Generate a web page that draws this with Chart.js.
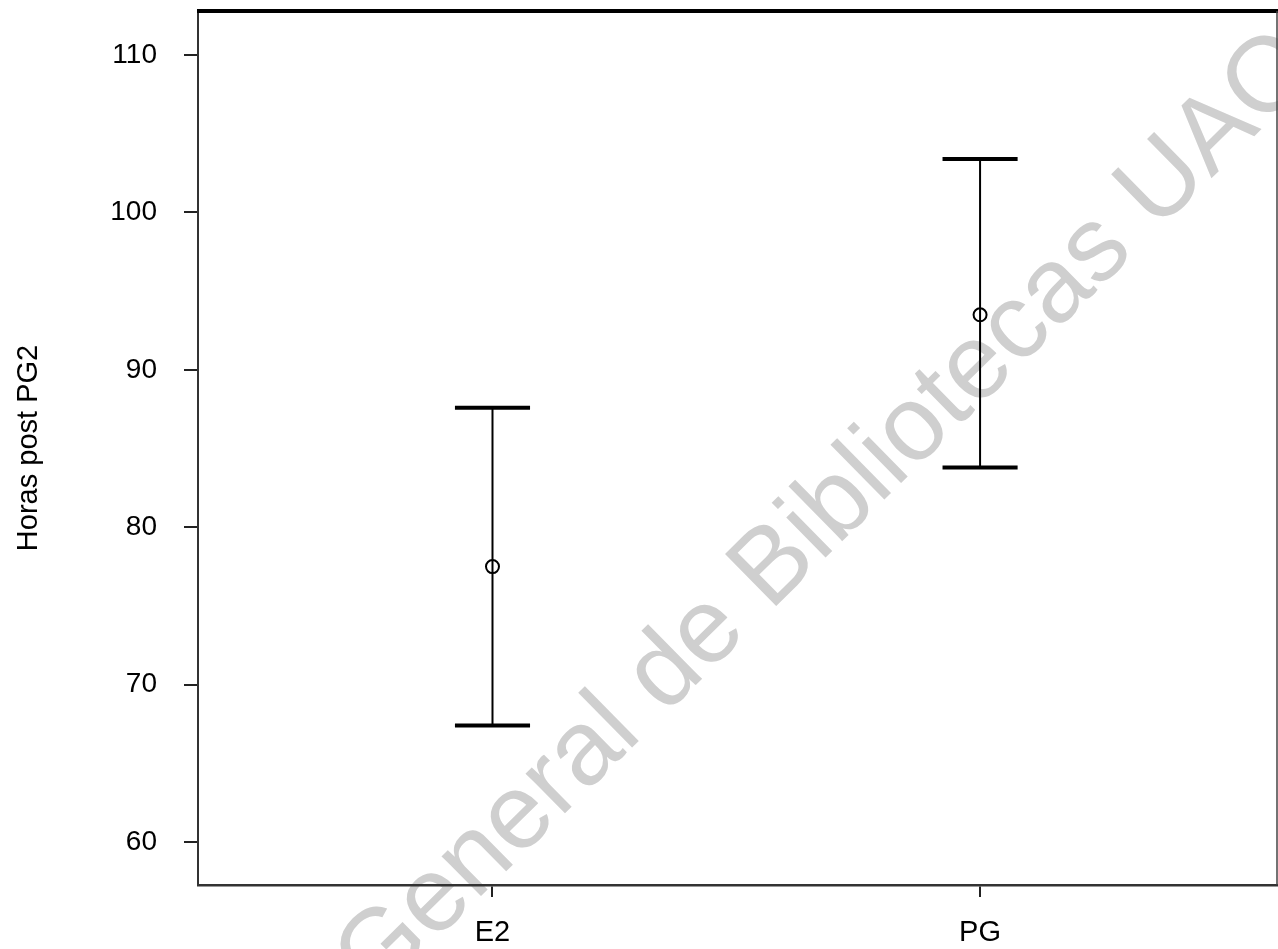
<!DOCTYPE html>
<html>
<head>
<meta charset="utf-8">
<title>Horas post PG2</title>
<script src="https://cdn.jsdelivr.net/npm/chart.js@4/dist/chart.umd.min.js"></script>
<style>
  html, body { margin: 0; padding: 0; background: #ffffff; }
  #wrap { width: 1278px; height: 949px; }
</style>
</head>
<body>
<div id="wrap"><canvas id="chart" width="1278" height="949"></canvas></div>
<script>
// Groups and their mean with lower / upper interval limits (hours)
const categories = ['E2', 'PG'];
const means = [77.5, 93.5];
const lower = [67.4, 83.8];
const upper = [87.6, 103.4];

// Axis ticks and ranges
const yTicks = [60, 70, 80, 90, 100, 110];
const yMin = 57.27, yMax = 112.8;
const xMin = 0.396, xMax = 2.609;

const CAP_HALF = 0.077;   // half width of the interval caps, in x units
const INK = '#000000';

// Build error-bar segments: one stem and two caps per group
const datasets = [];
categories.forEach((cat, i) => {
  const x = i + 1;
  datasets.push({
    label: cat + ' interval',
    data: [{ x: x, y: lower[i] }, { x: x, y: upper[i] }],
    showLine: true, borderColor: INK, borderWidth: 2, pointRadius: 0
  });
  datasets.push({
    label: cat + ' upper cap',
    data: [{ x: x - CAP_HALF, y: upper[i] }, { x: x + CAP_HALF, y: upper[i] }],
    showLine: true, borderColor: INK, borderWidth: 4, pointRadius: 0
  });
  datasets.push({
    label: cat + ' lower cap',
    data: [{ x: x - CAP_HALF, y: lower[i] }, { x: x + CAP_HALF, y: lower[i] }],
    showLine: true, borderColor: INK, borderWidth: 4, pointRadius: 0
  });
});
datasets.push({
  label: 'Media',
  data: categories.map((c, i) => ({ x: i + 1, y: means[i] })),
  showLine: false,
  pointStyle: 'circle',
  pointRadius: 6.5,
  pointBorderWidth: 2,
  pointBorderColor: INK,
  pointBackgroundColor: 'rgba(0,0,0,0)'
});

// Faint diagonal library stamp behind the plot
const stampPlugin = {
  id: 'stamp',
  beforeDraw(chart) {
    const ctx = chart.ctx;
    ctx.save();
    ctx.font = '106px "Liberation Sans", Arial, sans-serif';
    ctx.fillStyle = '#cfcfcf';
    ctx.textBaseline = 'alphabetic';
    const before = 'Dirección General de ';
    const shift = ctx.measureText(before).width;
    ctx.translate(770, 612);
    ctx.rotate(-44.5 * Math.PI / 180);
    ctx.fillText('Dirección General de Bibliotecas UAQ', -shift, 0);
    ctx.restore();
  }
};

// Top and right sides of the plot frame
const framePlugin = {
  id: 'frame',
  afterDraw(chart) {
    const { ctx, chartArea: a } = chart;
    ctx.save();
    ctx.strokeStyle = '#000';
    ctx.lineWidth = 4;
    ctx.beginPath();
    ctx.moveTo(a.left - 1, a.top);
    ctx.lineTo(a.right + 1, a.top);
    ctx.stroke();
    ctx.strokeStyle = '#444';
    ctx.lineWidth = 1.5;
    ctx.beginPath();
    ctx.moveTo(a.right, a.top);
    ctx.lineTo(a.right, a.bottom);
    ctx.stroke();
    ctx.restore();
  }
};

const FONT = '"Liberation Sans", Arial, sans-serif';

new Chart(document.getElementById('chart'), {
  type: 'scatter',
  data: { datasets },
  plugins: [stampPlugin, framePlugin],
  options: {
    responsive: false,
    animation: false,
    events: [],
    layout: { autoPadding: false, padding: { top: 11, right: 1, left: 0, bottom: 0 } },
    plugins: { legend: { display: false }, tooltip: { enabled: false } },
    scales: {
      x: {
        type: 'linear',
        min: xMin,
        max: xMax,
        afterBuildTicks: s => { s.ticks = categories.map((c, i) => ({ value: i + 1 })); },
        afterFit: s => { s.height = 64; s.paddingLeft = 0; s.paddingRight = 0; },
        ticks: {
          callback: v => categories[Math.round(v) - 1],
          color: '#000',
          font: { family: FONT, size: 29 },
          padding: 19,
          maxRotation: 0,
          autoSkip: false
        },
        grid: { drawOnChartArea: false, drawTicks: true, tickLength: 12, color: '#222', lineWidth: 2 },
        border: { display: true, color: '#333', width: 2.5 }
      },
      y: {
        type: 'linear',
        min: yMin,
        max: yMax,
        afterBuildTicks: s => { s.ticks = yTicks.map(v => ({ value: v })); },
        afterFit: s => { s.width = 198; s.paddingTop = 0; s.paddingBottom = 0; },
        ticks: {
          color: '#000',
          font: { family: FONT, size: 28 },
          padding: 27,
          autoSkip: false
        },
        grid: { drawOnChartArea: false, drawTicks: true, tickLength: 14, color: '#222', lineWidth: 2 },
        border: { display: true, color: '#333', width: 2 },
        title: {
          display: true,
          text: 'Horas post PG2',
          color: '#000',
          font: { family: FONT, size: 29 },
          padding: { top: 12, bottom: 0 }
        }
      }
    }
  }
});
</script>
</body>
</html>
